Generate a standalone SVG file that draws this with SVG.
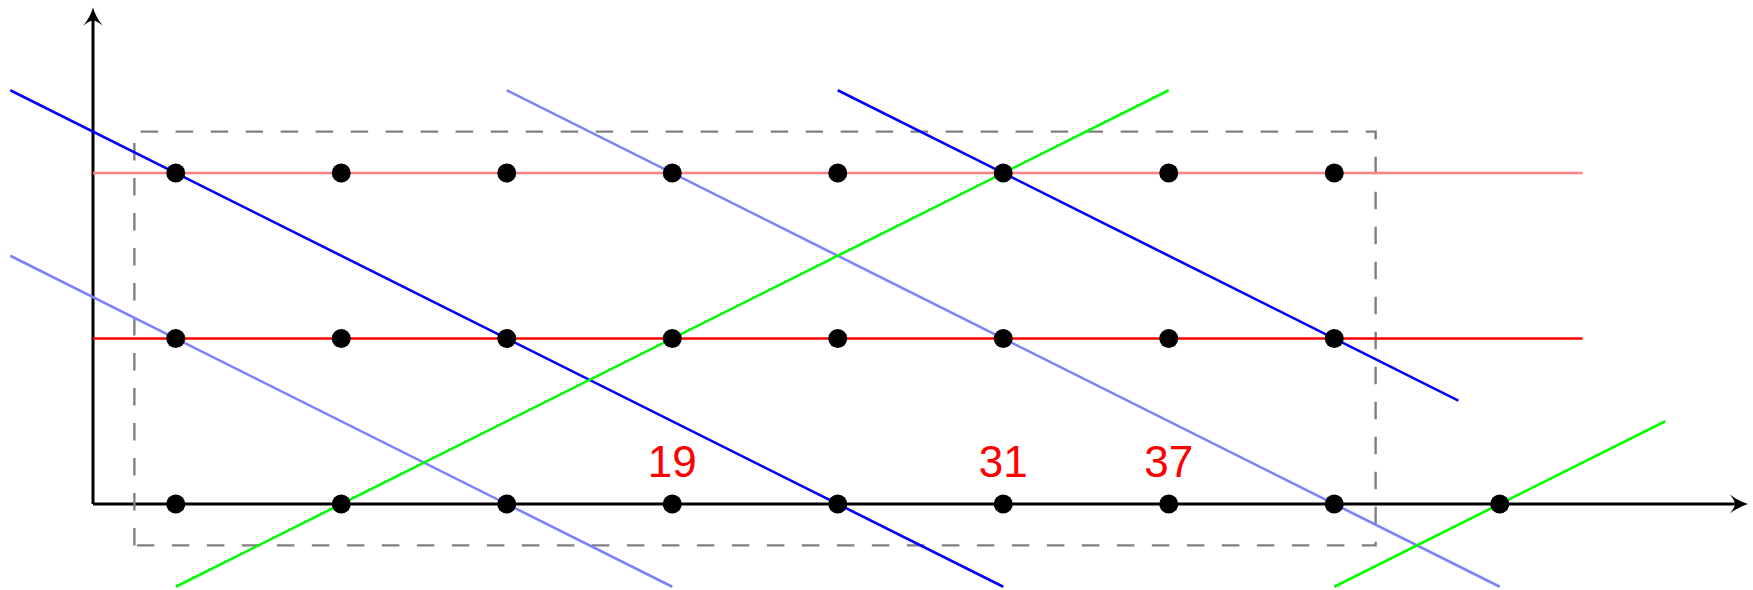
<svg xmlns="http://www.w3.org/2000/svg" width="1753" height="590" viewBox="0 0 1753 590">
<style>
.ax{stroke:#000;stroke-width:3;fill:none}
.ln{stroke-width:2.6;fill:none}
.lr{stroke:#ff8080}.r{stroke:#ff0000}.b{stroke:#0000ff}.lb{stroke:#8080ff}.g{stroke:#00ff00}
.box{stroke:#808080;stroke-width:2.4;fill:none;stroke-dasharray:17.5 17.5}
.dot{fill:#000}
.lab{font-family:"Liberation Sans",Arial,sans-serif;font-size:44px;fill:#ff0000;text-anchor:middle}
</style>
<defs>
<path id="ah" d="M0,0 Q-9,2.5 -18,9.5 Q-13,3 -13,0 Q-13,-3 -18,-9.5 Q-9,-2.5 0,0 Z" fill="#000"/>
</defs>
<g id="axes">
<line class="ax" x1="93" y1="504" x2="1738" y2="504"/>
<line class="ax" x1="93" y1="504" x2="93" y2="16"/>
<use href="#ah" transform="translate(1748,504)"/>
<use href="#ah" transform="translate(93,7.5) rotate(-90)"/>
</g>
<g id="box">
<path class="box" d="M134.375,545.375 V131.625 H1375.625 V545.375 Z"/>
</g>
<g id="connectors">
<line class="ln lr" x1="93" y1="173" x2="1582.5" y2="173"/>
<line class="ln r" x1="93" y1="338.5" x2="1582.5" y2="338.5"/>
<line class="ln b" x1="10.25" y1="90.25" x2="1003.25" y2="586.75"/>
<line class="ln b" x1="837.75" y1="90.25" x2="1458.375" y2="400.5625"/>
<line class="ln lb" x1="10.25" y1="255.75" x2="672.25" y2="586.75"/>
<line class="ln lb" x1="506.75" y1="90.25" x2="1499.75" y2="586.75"/>
<line class="ln g" x1="175.75" y1="586.75" x2="1168.75" y2="90.25"/>
<line class="ln g" x1="1334.25" y1="586.75" x2="1665.25" y2="421.25"/>
</g>
<g id="dots-top">
<circle class="dot" cx="175.75" cy="173" r="9.5"/>
<circle class="dot" cx="341.25" cy="173" r="9.5"/>
<circle class="dot" cx="506.75" cy="173" r="9.5"/>
<circle class="dot" cx="672.25" cy="173" r="9.5"/>
<circle class="dot" cx="837.75" cy="173" r="9.5"/>
<circle class="dot" cx="1003.25" cy="173" r="9.5"/>
<circle class="dot" cx="1168.75" cy="173" r="9.5"/>
<circle class="dot" cx="1334.25" cy="173" r="9.5"/>
</g>
<g id="dots-mid">
<circle class="dot" cx="175.75" cy="338.5" r="9.5"/>
<circle class="dot" cx="341.25" cy="338.5" r="9.5"/>
<circle class="dot" cx="506.75" cy="338.5" r="9.5"/>
<circle class="dot" cx="672.25" cy="338.5" r="9.5"/>
<circle class="dot" cx="837.75" cy="338.5" r="9.5"/>
<circle class="dot" cx="1003.25" cy="338.5" r="9.5"/>
<circle class="dot" cx="1168.75" cy="338.5" r="9.5"/>
<circle class="dot" cx="1334.25" cy="338.5" r="9.5"/>
</g>
<g id="dots-bottom">
<circle class="dot" cx="175.75" cy="504" r="9.5"/>
<circle class="dot" cx="341.25" cy="504" r="9.5"/>
<circle class="dot" cx="506.75" cy="504" r="9.5"/>
<circle class="dot" cx="672.25" cy="504" r="9.5"/>
<circle class="dot" cx="837.75" cy="504" r="9.5"/>
<circle class="dot" cx="1003.25" cy="504" r="9.5"/>
<circle class="dot" cx="1168.75" cy="504" r="9.5"/>
<circle class="dot" cx="1334.25" cy="504" r="9.5"/>
<circle class="dot" cx="1499.75" cy="504" r="9.5"/>
</g>
<g id="labels">
<text class="lab" x="672.25" y="477">19</text>
<text class="lab" x="1003.25" y="477">31</text>
<text class="lab" x="1168.75" y="477">37</text>
</g>
</svg>
